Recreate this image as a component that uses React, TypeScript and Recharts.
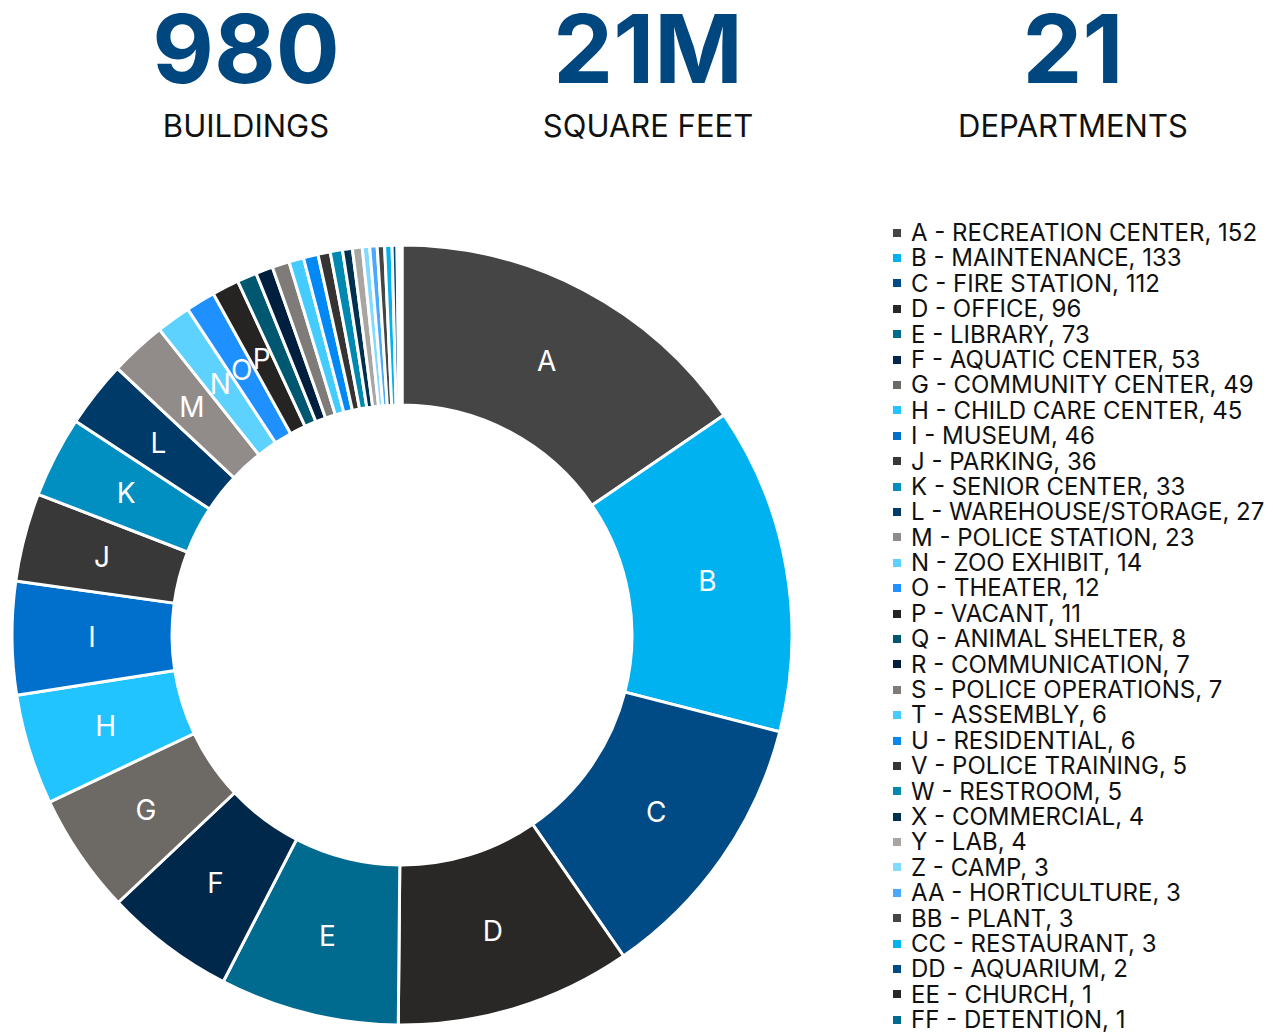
import { PieChart, Pie, Cell, Legend } from "recharts";

const codes = [
  "A", "B", "C", "D", "E", "F", "G", "H", "I", "J", "K", "L", "M", "N", "O", "P",
  "Q", "R", "S", "T", "U", "V", "W", "X", "Y", "Z", "AA", "BB", "CC", "DD", "EE", "FF",
];

const names = [
  "RECREATION CENTER", "MAINTENANCE", "FIRE STATION", "OFFICE", "LIBRARY",
  "AQUATIC CENTER", "COMMUNITY CENTER", "CHILD CARE CENTER", "MUSEUM", "PARKING",
  "SENIOR CENTER", "WAREHOUSE/STORAGE", "POLICE STATION", "ZOO EXHIBIT", "THEATER",
  "VACANT", "ANIMAL SHELTER", "COMMUNICATION", "POLICE OPERATIONS", "ASSEMBLY",
  "RESIDENTIAL", "POLICE TRAINING", "RESTROOM", "COMMERCIAL", "LAB", "CAMP",
  "HORTICULTURE", "PLANT", "RESTAURANT", "AQUARIUM", "CHURCH", "DETENTION",
];

const counts = [
  152, 133, 112, 96, 73, 53, 49, 45, 46, 36, 33, 27, 23, 14, 12, 11,
  8, 7, 7, 6, 6, 5, 5, 4, 4, 3, 3, 3, 3, 2, 1, 1,
];

const colors = [
  "#454545", "#00b2f0", "#004a85", "#2a2826", "#006a8f", "#00284a", "#6d6965", "#22c4ff",
  "#0070cc", "#383838", "#008fc0", "#003a68", "#918c89", "#5dd2ff", "#1e90ff", "#262422",
  "#005870", "#001f3f", "#7f7b78", "#45ccff", "#0088f5", "#353433", "#0088b0", "#00304f",
  "#a8a5a3", "#80dbff", "#4aa8ff", "#454545", "#00b2f0", "#004a85", "#2a2826", "#006a8f",
];

// only the larger slices get a letter inside
const labelledCount = 16;

const stats = [
  { value: "980", caption: "BUILDINGS", x: 246 },
  { value: "21M", caption: "SQUARE FEET", x: 648 },
  { value: "21", caption: "DEPARTMENTS", x: 1073 },
];

const data = codes.map((code, i) => ({
  code,
  name: `${code} - ${names[i]}, ${counts[i]}`,
  value: counts[i],
}));

const RADIAN = Math.PI / 180;
const FONT = "Inter, 'Noto Sans', sans-serif";

const renderLabel = (props: any) => {
  const { cx, cy, midAngle, innerRadius, outerRadius, index } = props;
  if (index >= labelledCount) return null;
  const r = (innerRadius + outerRadius) / 2;
  const x = cx + r * Math.cos(-midAngle * RADIAN);
  const y = cy + r * Math.sin(-midAngle * RADIAN);
  return (
    <text
      x={x}
      y={y}
      fill="#ffffff"
      textAnchor="middle"
      dominantBaseline="central"
      fontSize={28}
      fontFamily={FONT}
    >
      {data[index].code}
    </text>
  );
};

const LegendList = () => (
  <ul style={{ listStyle: "none", margin: 0, padding: 0, fontFamily: FONT }}>
    {data.map((d, i) => (
      <li
        key={d.code}
        style={{
          display: "flex",
          alignItems: "center",
          height: 25.4,
          lineHeight: "25.4px",
          fontSize: 24,
          color: "#111111",
          whiteSpace: "nowrap",
        }}
      >
        <span
          style={{
            display: "inline-block",
            width: 8,
            height: 8,
            background: colors[i],
            marginRight: 10,
          }}
        />
        {d.name}
      </li>
    ))}
  </ul>
);

export default function App() {
  return (
    <div
      style={{
        position: "absolute",
        left: 0,
        top: 0,
        width: 1273,
        height: 1033,
        background: "#ffffff",
        fontFamily: FONT,
      }}
    >
      {stats.map((s) => (
        <div
          key={s.caption}
          style={{
            position: "absolute",
            left: s.x - 200,
            top: 0,
            width: 400,
            textAlign: "center",
          }}
        >
          <div
            style={{
              fontSize: 95,
              fontWeight: 700,
              color: "#00467f",
              lineHeight: "98px",
            }}
          >
            {s.value}
          </div>
          <div style={{ fontSize: 31, color: "#111111", lineHeight: "36px", marginTop: 10 }}>
            {s.caption}
          </div>
        </div>
      ))}
      <div style={{ position: "absolute", left: 0, top: 0 }}>
        <PieChart
          width={1273}
          height={1033}
          margin={{ top: 0, right: 0, bottom: 0, left: 0 }}
        >
          <Pie
            data={data}
            dataKey="value"
            nameKey="name"
            cx={402}
            cy={635}
            innerRadius={230}
            outerRadius={390}
            startAngle={90}
            endAngle={-270}
            stroke="#ffffff"
            strokeWidth={3}
            label={renderLabel}
            labelLine={false}
            isAnimationActive={false}
          >
            {data.map((d, i) => (
              <Cell key={`cell-${d.code}`} fill={colors[i]} />
            ))}
          </Pie>
          <Legend
            layout="vertical"
            align="right"
            verticalAlign="top"
            content={() => <LegendList />}
            wrapperStyle={{ left: 893, top: 220, width: 380 }}
          />
        </PieChart>
      </div>
    </div>
  );
}
